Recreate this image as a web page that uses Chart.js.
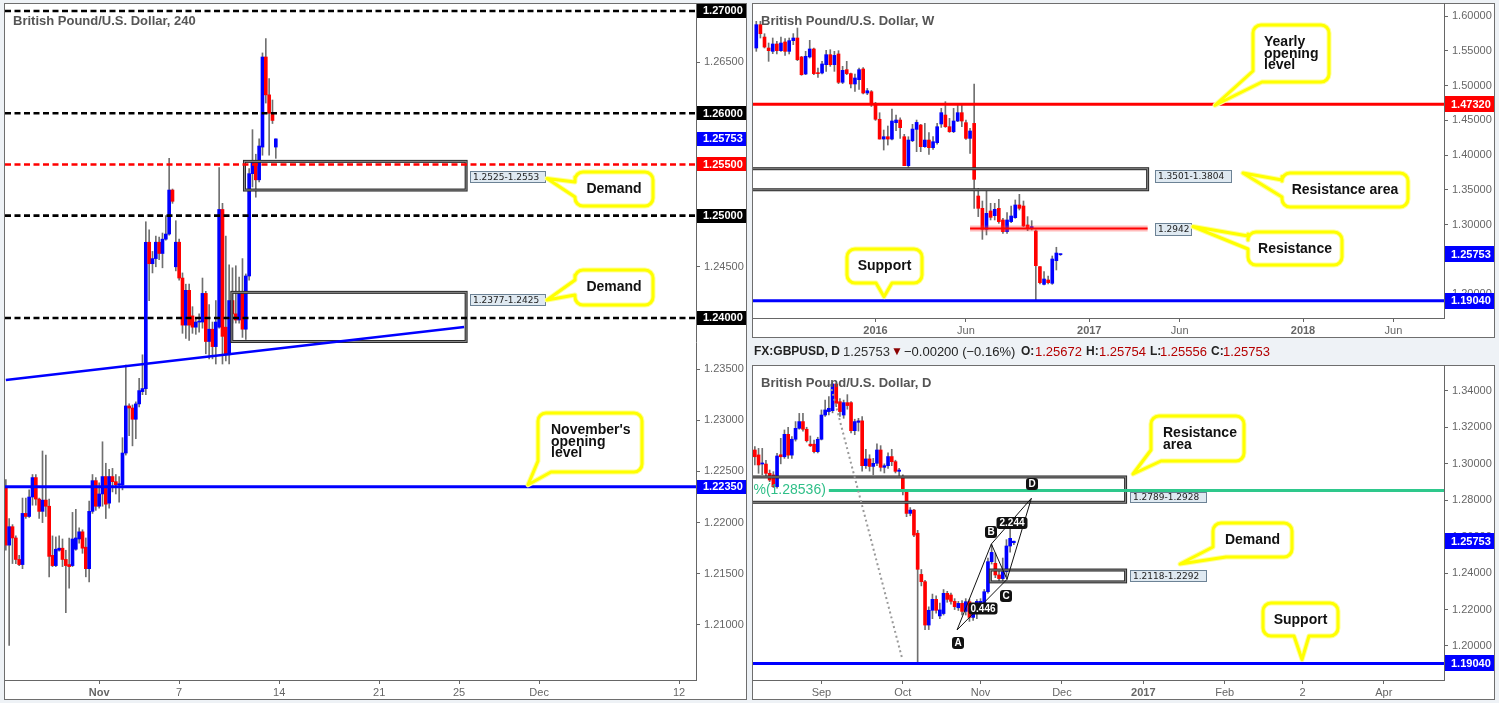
<!DOCTYPE html>
<html>
<head>
<meta charset="utf-8">
<script src="https://cdn.jsdelivr.net/npm/chart.js@4.4.1/dist/chart.umd.min.js"></script>
<style>
  html, body { margin: 0; padding: 0; background: #eef2f6; }
  body { width: 1499px; height: 703px; position: relative; overflow: hidden; }
  canvas { position: absolute; }
  #c4h { left: 0; top: 0; }
  #cw { left: 749px; top: 0; }
  #cd { left: 749px; top: 340px; }
</style>
</head>
<body>
<canvas id="c4h" width="750" height="703"></canvas>
<canvas id="cw" width="750" height="340"></canvas>
<canvas id="cd" width="750" height="363"></canvas>
<script>
// ---- 4h candles (index 0 = Mon 14 Nov 00:00) ----
const h4First = -82;
const h4Open = [1.2235,1.2178,1.2196,1.2185,1.2164,1.2159,1.2209,1.2206,1.2225,1.2244,
  1.2223,1.2211,1.2222,1.2216,1.2168,1.2158,1.2173,1.2175,1.2164,1.2159,
  1.2158,1.2174,1.2184,1.2191,1.2176,1.2155,1.2211,1.2241,1.2216,1.2228,
  1.2245,1.2219,1.2245,1.2240,1.2237,1.2237,1.2268,1.2314,1.2312,1.2301,
  1.2316,1.2328,1.2331,1.2474,1.2453,1.2458,1.2474,1.2463,1.2477,1.2482,
  1.2525,1.2450,1.2474,1.2439,1.2393,1.2427,1.2402,1.2391,1.2396,1.2396,
  1.2424,1.2377,1.2389,1.2372,1.2391,1.2506,1.2391,1.2364,1.2417,1.2404,
  1.2398,1.2424,1.2389,1.2441,1.2541,1.2552,1.2535,1.2567,1.2655,1.2618,
  1.2600,1.2567];
const h4High = [1.2242,1.2204,1.2198,1.2187,1.2168,1.2224,1.2224,1.2232,1.2247,1.2247,
  1.2224,1.2270,1.2266,1.2223,1.2187,1.2186,1.2187,1.2184,1.2173,1.2185,
  1.2210,1.2213,1.2195,1.2193,1.2185,1.2221,1.2247,1.2244,1.2239,1.2279,
  1.2258,1.2252,1.2253,1.2247,1.2245,1.2283,1.2354,1.2316,1.2315,1.2318,
  1.2341,1.2364,1.2494,1.2486,1.2465,1.2480,1.2479,1.2483,1.2500,1.2556,
  1.2526,1.2495,1.2477,1.2444,1.2433,1.2433,1.2411,1.2399,1.2404,1.2439,
  1.2426,1.2413,1.2396,1.2417,1.2547,1.2512,1.2480,1.2452,1.2449,1.2451,
  1.2440,1.2458,1.2443,1.2546,1.2584,1.2560,1.2575,1.2659,1.2673,1.2634,
  1.2613,1.2575];
const h4Low = [1.2173,1.2080,1.2160,1.2160,1.2158,1.2155,1.2204,1.2205,1.2217,1.2217,
  1.2204,1.2200,1.2206,1.2147,1.2157,1.2157,1.2172,1.2157,1.2112,1.2136,
  1.2157,1.2173,1.2180,1.2170,1.2147,1.2142,1.2209,1.2212,1.2214,1.2216,
  1.2204,1.2214,1.2230,1.2228,1.2220,1.2232,1.2266,1.2285,1.2275,1.2282,
  1.2313,1.2325,1.2325,1.2417,1.2444,1.2450,1.2457,1.2449,1.2476,1.2481,
  1.2512,1.2446,1.2437,1.2385,1.2380,1.2378,1.2385,1.2384,1.2386,1.2390,
  1.2365,1.2360,1.2360,1.2355,1.2390,1.2355,1.2358,1.2355,1.2395,1.2395,
  1.2395,1.2381,1.2379,1.2437,1.2528,1.2518,1.2533,1.2559,1.2610,1.2559,
  1.2590,1.2556];
const h4Close = [1.2178,1.2196,1.2185,1.2164,1.2159,1.2209,1.2206,1.2225,1.2244,1.2223,
  1.2211,1.2222,1.2216,1.2167,1.2158,1.2174,1.2175,1.2164,1.2158,1.2157,
  1.2184,1.2185,1.2191,1.2175,1.2155,1.2211,1.2241,1.2216,1.2228,1.2245,
  1.2218,1.2245,1.2240,1.2237,1.2238,1.2268,1.2314,1.2312,1.2301,1.2316,
  1.2329,1.2331,1.2474,1.2453,1.2458,1.2474,1.2463,1.2477,1.2482,1.2525,
  1.2514,1.2474,1.2439,1.2393,1.2427,1.2393,1.2391,1.2396,1.2397,1.2424,
  1.2377,1.2389,1.2372,1.2396,1.2506,1.2382,1.2364,1.2417,1.2404,1.2398,
  1.2424,1.2389,1.2441,1.2541,1.2552,1.2535,1.2568,1.2655,1.2618,1.2600,
  1.2593,1.2575];
const h4TickPos = [-54, -30, 0, 30, 54, 78, 120];
const h4TickLabels = ['Nov', '7', '14', '21', '25', 'Dec', '12'];
const h4YTicks = [1.21, 1.215, 1.22, 1.225, 1.23, 1.235, 1.24, 1.245, 1.25, 1.255, 1.26, 1.265, 1.27];
const h4Dashed = [1.27, 1.26, 1.25, 1.24];
const h4RedLevel = 1.255;
const novOpen = 1.2235;
const h4Demand1 = [1.2525, 1.2553], h4Demand1X = [-10.4, 56.1];
const h4Demand2 = [1.2377, 1.2425], h4Demand2X = [-14.2, 56.1];
const h4TrendX = [-82, 55.5], h4TrendY = [1.23393, 1.23911];
const lastPrice = 1.25753;

// ---- weekly candles (index 0 = week of 3 Jan 2016) ----
const wFirst = -29;
const wOpen = [1.5542,1.5878,1.5700,1.5542,1.5494,1.5600,1.5504,1.5629,1.5494,1.5648,
  1.5686,1.5413,1.5168,1.5413,1.5528,1.5182,1.5182,1.5302,1.5446,1.5302,
  1.5456,1.5048,1.5230,1.5173,1.5024,1.5086,1.5240,1.4894,1.4913,1.4740,
  1.4516,1.4231,1.4265,1.4231,1.4467,1.4505,1.4265,1.3848,1.4207,1.4371,
  1.4433,1.4121,1.4217,1.4107,1.4179,1.4448,1.4577,1.4409,1.4337,1.4491,
  1.4611,1.4467,1.4241,1.4457,1.3411,1.3234,1.2931,1.3195,1.3128,1.3234,
  1.3066,1.2898,1.3042,1.3099,1.3282,1.3267,1.2994,1.2946,1.2907,1.2394,
  1.2139,1.2202,1.2154,1.2480,1.2567];
const wHigh = [1.5926,1.5926,1.5748,1.5614,1.5686,1.5638,1.5700,1.5677,1.5686,1.5749,
  1.5830,1.5422,1.5494,1.5653,1.5542,1.5254,1.5350,1.5509,1.5518,1.5494,
  1.5504,1.5278,1.5350,1.5182,1.5168,1.5254,1.5260,1.4960,1.4930,1.4760,
  1.4610,1.4361,1.4419,1.4663,1.4577,1.4538,1.4299,1.4265,1.4443,1.4505,
  1.4443,1.4457,1.4323,1.4265,1.4457,1.4673,1.4769,1.4529,1.4673,1.4735,
  1.4735,1.4505,1.4385,1.5024,1.3521,1.3339,1.3483,1.3306,1.3306,1.3363,
  1.3090,1.3171,1.3267,1.3354,1.3435,1.3339,1.3114,1.3056,1.2922,1.2394,
  1.2322,1.2259,1.2547,1.2673,1.2575];
const wLow = [1.5494,1.5686,1.5542,1.5350,1.5461,1.5456,1.5494,1.5437,1.5456,1.5590,
  1.5360,1.5149,1.5158,1.5398,1.5158,1.5120,1.5168,1.5206,1.5278,1.5206,
  1.5029,1.5029,1.5158,1.4966,1.4918,1.4947,1.4880,1.4870,1.4700,1.4500,
  1.4231,1.4073,1.4145,1.4217,1.4351,1.4241,1.3848,1.3825,1.4193,1.4049,
  1.4049,1.4111,1.4011,1.4083,1.4159,1.4399,1.4399,1.4327,1.4323,1.4481,
  1.4409,1.4227,1.4025,1.3234,1.3114,1.2787,1.2850,1.3066,1.3066,1.3018,
  1.2874,1.2874,1.3027,1.3090,1.3210,1.2970,1.2912,1.2922,1.1899,1.2144,
  1.2130,1.2144,1.2139,1.2346,1.2556];
const wClose = [1.5878,1.5748,1.5556,1.5504,1.5600,1.5504,1.5614,1.5494,1.5648,1.5686,
  1.5374,1.5158,1.5422,1.5528,1.5173,1.5173,1.5312,1.5446,1.5302,1.5436,
  1.5048,1.5221,1.5173,1.5024,1.5110,1.5230,1.4894,1.4927,1.4740,1.4516,
  1.4231,1.4265,1.4231,1.4491,1.4505,1.4395,1.3848,1.4217,1.4375,1.4471,
  1.4121,1.4217,1.4107,1.4193,1.4409,1.4611,1.4409,1.4337,1.4491,1.4611,
  1.4491,1.4241,1.4347,1.3651,1.3234,1.2931,1.3162,1.3104,1.3219,1.3042,
  1.2898,1.3066,1.3123,1.3282,1.3234,1.2979,1.2946,1.2970,1.2408,1.2163,
  1.2216,1.2163,1.2504,1.2590,1.2575];
const wTickPos = [0, 22, 52, 74, 104, 126];
const wTickLabels = ['2016', 'Jun', '2017', 'Jun', '2018', 'Jun'];
const wYTicks = [1.20, 1.25, 1.30, 1.35, 1.40, 1.45, 1.50, 1.55, 1.60];
const yearlyOpen = 1.4732;
const wResArea = [1.3501, 1.3804], wResAreaEnd = 66.2;
const wRes = 1.2942, wResX = [23, 66.2];
const support = 1.1904;

// ---- daily candles (index 0 = 14 Nov 2016) ----
const dFirst = -70;
const dOpen = [1.3076,1.3049,1.2999,1.2999,1.2948,1.2939,1.2875,1.3050,1.3039,1.3162,
  1.3048,1.3135,1.3195,1.3232,1.3190,1.3108,1.3108,1.3067,1.3135,1.3268,
  1.3287,1.3292,1.3438,1.3341,1.3268,1.3336,1.3336,1.3182,1.3228,1.3236,
  1.2990,1.3027,1.2986,1.3003,1.3076,1.2981,1.2990,1.3040,1.3012,1.2959,
  1.2930,1.2847,1.2728,1.2746,1.2619,1.2393,1.2353,1.2115,1.2196,1.2256,
  1.2165,1.2178,1.2289,1.2280,1.2245,1.2210,1.2234,1.2190,1.2243,1.2157,
  1.2180,1.2234,1.2234,1.2298,1.2463,1.2454,1.2390,1.2370,1.2408,1.2549,
  1.2567];
const dHigh = [1.3095,1.3085,1.3085,1.3020,1.2966,1.2957,1.3058,1.3140,1.3186,1.3200,
  1.3150,1.3232,1.3277,1.3277,1.3201,1.3153,1.3130,1.3146,1.3296,1.3350,
  1.3369,1.3442,1.3442,1.3359,1.3350,1.3380,1.3342,1.3245,1.3250,1.3260,
  1.3080,1.3050,1.3030,1.3110,1.3100,1.3000,1.3060,1.3080,1.3020,1.2975,
  1.2940,1.2860,1.2760,1.2750,1.2635,1.2420,1.2360,1.2215,1.2285,1.2275,
  1.2235,1.2310,1.2300,1.2290,1.2260,1.2245,1.2250,1.2260,1.2255,1.2210,
  1.2255,1.2260,1.2310,1.2483,1.2556,1.2510,1.2420,1.2483,1.2584,1.2673,
  1.25754];
const dLow = [1.2994,1.2948,1.2940,1.2930,1.2902,1.2870,1.2866,1.3000,1.3030,1.3030,
  1.3030,1.3125,1.3190,1.3180,1.3120,1.3095,1.3060,1.3060,1.3131,1.3260,
  1.3268,1.3280,1.3314,1.3260,1.3250,1.3300,1.3170,1.3160,1.3180,1.2960,
  1.2975,1.2960,1.2940,1.2990,1.2960,1.2950,1.2975,1.2990,1.2950,1.2930,
  1.2830,1.2710,1.2715,1.2600,1.1908,1.2330,1.2090,1.2090,1.2150,1.2180,
  1.2150,1.2170,1.2240,1.2230,1.2200,1.2195,1.2170,1.2170,1.2135,1.2140,
  1.2150,1.2215,1.2220,1.2290,1.2450,1.2375,1.2355,1.2350,1.2380,1.2515,
  1.25556];
const dClose = [1.3039,1.2994,1.3005,1.2948,1.2911,1.2875,1.3043,1.3039,1.3162,1.3048,
  1.3135,1.3195,1.3232,1.3190,1.3127,1.3099,1.3067,1.3135,1.3268,1.3296,
  1.3305,1.3438,1.3332,1.3287,1.3336,1.3320,1.3182,1.3232,1.3236,1.2990,
  1.3027,1.2986,1.3003,1.3076,1.2981,1.2990,1.3040,1.3012,1.2959,1.2966,
  1.2847,1.2728,1.2746,1.2609,1.2421,1.2353,1.2115,1.2196,1.2256,1.2196,
  1.2198,1.2289,1.2256,1.2245,1.2216,1.2234,1.2190,1.2243,1.2157,1.2189,
  1.2245,1.2245,1.2298,1.2463,1.2514,1.2390,1.2370,1.2408,1.2549,1.2591,
  1.25753];
const dTickPos = [-52, -30, -9, 13, 35, 57, 78, 100];
const dTickLabels = ['Sep', 'Oct', 'Nov', 'Dec', '2017', 'Feb', '2', 'Apr'];
const dYTicks = [1.20, 1.22, 1.24, 1.26, 1.28, 1.30, 1.32, 1.34];
const dResArea = [1.2789, 1.2928], dZoneEnd = 30.2;
const dDemandBox = [1.2352, 1.2417], dDemandStart = -6.35;
const fibLevel = 1.28536, fibStart = -50;
const abcdX = [-15.35, -6.08, -1.84, 4.74];
const abcdY = [1.2088, 1.2560, 1.2366, 1.2811];
const swingX = [-49.6, -30.2], swingY = [1.3437, 1.1932];

const BG = '#eef2f6';
const FONT = '"Liberation Sans", Arial, sans-serif';

function callout(ctx, x, y, w, h, ptr) {
  const r = 8;
  const P = (px, py, rr) => ({ x: px, y: py, r: rr });
  const TL = P(x, y, r), TR = P(x + w, y, r), BR = P(x + w, y + h, r), BL = P(x, y + h, r);
  const T = P(ptr.tx, ptr.ty, 0);
  let pts;
  if (ptr.side === 'left') pts = [TL, TR, BR, BL, P(x, ptr.b, 0), T, P(x, ptr.a, 0)];
  else if (ptr.side === 'bottom') pts = [TL, TR, BR, P(ptr.b, y + h, 0), T, P(ptr.a, y + h, 0), BL];
  else pts = [TL, TR, BR, P(ptr.b, y + h, 0), T, P(x, ptr.a, 0)];
  const n = pts.length;
  ctx.save();
  ctx.beginPath();
  ctx.moveTo((pts[n - 1].x + pts[0].x) / 2, (pts[n - 1].y + pts[0].y) / 2);
  for (let k = 0; k < n; k++) {
    const p = pts[k], q = pts[(k + 1) % n];
    if (p.r > 0) ctx.arcTo(p.x, p.y, q.x, q.y, p.r); else ctx.lineTo(p.x, p.y);
  }
  ctx.closePath();
  ctx.fillStyle = '#fff';
  ctx.fill();
  ctx.lineJoin = 'round';
  ctx.strokeStyle = '#ffff9a';
  ctx.lineWidth = 5;
  ctx.stroke();
  ctx.strokeStyle = '#ffff00';
  ctx.lineWidth = 3;
  ctx.stroke();
  ctx.restore();
}

function calloutText(ctx, lines, x, y, lh, align) {
  ctx.save();
  ctx.font = 'bold 14px ' + FONT;
  ctx.fillStyle = '#111';
  ctx.textAlign = align;
  ctx.textBaseline = align === 'center' ? 'middle' : 'alphabetic';
  lines.forEach((t, k) => ctx.fillText(t, x, y + k * lh));
  ctx.restore();
}

function tag(ctx, x, y, w, h, text) {
  ctx.save();
  ctx.fillStyle = '#dfe9f1';
  ctx.fillRect(x, y, w, h);
  ctx.strokeStyle = '#6c8295';
  ctx.lineWidth = 1;
  ctx.strokeRect(x + 0.5, y + 0.5, w - 1, h - 1);
  ctx.fillStyle = '#222';
  ctx.font = '9px "DejaVu Sans", sans-serif';
  ctx.textBaseline = 'middle';
  ctx.fillText(text, x + 3, y + h / 2 + 0.5);
  ctx.restore();
}

function axisTag(chart, v, text, bg, h) {
  const ctx = chart.ctx, ca = chart.chartArea;
  const y = chart.scales.y.getPixelForValue(v);
  ctx.save();
  ctx.fillStyle = bg;
  ctx.fillRect(ca.right + 1, Math.round(y - h / 2), 49, h);
  ctx.fillStyle = '#fff';
  ctx.font = 'bold 11px ' + FONT;
  ctx.textBaseline = 'middle';
  ctx.fillText(text, ca.right + 7, y + 0.5);
  ctx.restore();
}

function hline(ctx, x1, x2, y, color, w, dash) {
  ctx.save();
  ctx.strokeStyle = color;
  ctx.lineWidth = w;
  ctx.setLineDash(dash || []);
  ctx.beginPath();
  ctx.moveTo(x1, y);
  ctx.lineTo(x2, y);
  ctx.stroke();
  ctx.restore();
}

function seg(ctx, x1, y1, x2, y2, color, w, dash) {
  ctx.save();
  ctx.strokeStyle = color;
  ctx.lineWidth = w;
  ctx.setLineDash(dash || []);
  ctx.beginPath();
  ctx.moveTo(x1, y1);
  ctx.lineTo(x2, y2);
  ctx.stroke();
  ctx.restore();
}

function zone(ctx, x1, y1, x2, y2) {
  ctx.save();
  ctx.strokeStyle = '#2b2b2b';
  ctx.lineWidth = 3;
  ctx.strokeRect(x1, y1, x2 - x1, y2 - y1);
  ctx.strokeStyle = '#8a8a8a';
  ctx.lineWidth = 1;
  ctx.strokeRect(x1, y1, x2 - x1, y2 - y1);
  ctx.restore();
}

function title(ctx, text, x, y) {
  ctx.save();
  ctx.font = 'bold 13px ' + FONT;
  ctx.fillStyle = '#555';
  ctx.fillText(text, x, y);
  ctx.restore();
}

function clipArea(chart) {
  const ca = chart.chartArea, ctx = chart.ctx;
  ctx.save();
  ctx.beginPath();
  ctx.rect(ca.left, ca.top, ca.right - ca.left, ca.bottom - ca.top);
  ctx.clip();
}

// labels at the axis ends must not push the plot area inwards
function noPad(s) {
  s.paddingTop = 0; s.paddingBottom = 0; s.paddingLeft = 0; s.paddingRight = 0;
}

function candleChart(id, o, h, l, c, first, opt) {
  const bodies = o.map((v, k) => ({ x: first + k, y: [Math.min(v, c[k]), Math.max(v, c[k])] }));
  const wicks = o.map((v, k) => ({ x: first + k, y: [l[k], h[k]] }));
  const colors = o.map((v, k) => (c[k] >= v ? '#0000ff' : '#ff0000'));
  return new Chart(document.getElementById(id), {
    type: 'bar',
    data: {
      datasets: [
        { data: bodies, backgroundColor: colors, barThickness: 3, minBarLength: 1, grouped: false },
        { data: wicks, backgroundColor: '#707070', barThickness: 1, grouped: false }
      ]
    },
    options: {
      responsive: false,
      animation: false,
      events: [],
      layout: { padding: opt.padding },
      plugins: { legend: { display: false }, tooltip: { enabled: false } },
      scales: {
        x: {
          type: 'linear', offset: false, min: opt.xMin, max: opt.xMax,
          afterBuildTicks: s => { s.ticks = opt.xTicks.map(v => ({ value: v })); },
          afterFit: s => { s.height = 19; noPad(s); },
          grid: { offset: false, drawOnChartArea: false, drawTicks: true, tickLength: 4, color: '#666' },
          border: { color: '#666' },
          ticks: {
            autoSkip: false, maxRotation: 0, padding: 2, color: '#666',
            callback: v => opt.xLabels[opt.xTicks.indexOf(v)],
            font: ctx => ({ family: FONT, size: 11, weight: opt.xBold.includes(opt.xLabels[ctx.index]) ? 'bold' : 'normal' })
          }
        },
        y: {
          position: 'right', beginAtZero: false, min: opt.yMin, max: opt.yMax,
          afterBuildTicks: s => { s.ticks = opt.yTicks.map(v => ({ value: v })); },
          afterFit: s => { s.width = 50; noPad(s); },
          grid: { drawOnChartArea: false, drawTicks: true, tickLength: 4, color: '#666' },
          border: { color: '#666' },
          ticks: { autoSkip: false, padding: 4, color: '#666', font: { family: FONT, size: 11 }, callback: v => v.toFixed(5) }
        }
      }
    },
    plugins: [{
      id: 'panel',
      beforeDraw(chart) {
        const ctx = chart.ctx, p = opt.panel;
        ctx.save();
        ctx.fillStyle = BG;
        ctx.fillRect(0, 0, chart.width, chart.height);
        ctx.fillStyle = '#fff';
        ctx.fillRect(p[0], p[1], p[2], p[3]);
        ctx.strokeStyle = '#6e6e6e';
        ctx.lineWidth = 1;
        ctx.strokeRect(p[0] + 0.5, p[1] + 0.5, p[2] - 1, p[3] - 1);
        ctx.restore();
      },
      afterDatasetsDraw: opt.annotate,
      afterDraw: opt.axisTags
    }]
  });
}

// ---------- 4h chart ----------
candleChart('c4h', h4Open, h4High, h4Low, h4Close, h4First, {
  padding: { left: 5, top: 4, right: 4, bottom: 4 },
  panel: [4, 3, 743, 697],
  xMin: -82.25, xMax: 125.07, yMin: 1.20462, yMax: 1.27068,
  xTicks: h4TickPos, xLabels: h4TickLabels, xBold: ['Nov'], yTicks: h4YTicks,
  annotate(chart) {
    const ctx = chart.ctx, ca = chart.chartArea;
    const X = v => chart.scales.x.getPixelForValue(v), Y = v => chart.scales.y.getPixelForValue(v);
    clipArea(chart);
    zone(ctx, X(h4Demand1X[0]), Y(h4Demand1[1]), X(h4Demand1X[1]), Y(h4Demand1[0]));
    zone(ctx, X(h4Demand2X[0]), Y(h4Demand2[1]), X(h4Demand2X[1]), Y(h4Demand2[0]));
    h4Dashed.forEach(v => hline(ctx, ca.left, ca.right, Y(v), '#000', 2.6, [6, 3.5]));
    hline(ctx, ca.left, ca.right, Y(h4RedLevel), '#ff0000', 2.6, [6, 3.5]);
    hline(ctx, ca.left, ca.right, Y(novOpen), '#0000ff', 3);
    seg(ctx, X(h4TrendX[0]), Y(h4TrendY[0]), X(h4TrendX[1]), Y(h4TrendY[1]), '#0000ff', 2.5);
    ctx.restore();
    tag(ctx, 470, 171, 76, 12, '1.2525-1.2553');
    tag(ctx, 470, 294, 76, 12, '1.2377-1.2425');
    callout(ctx, 575, 172, 78, 34, { side: 'left', a: 182, b: 197, tx: 547, ty: 178.5 });
    calloutText(ctx, ['Demand'], 614, 189.5, 0, 'center');
    callout(ctx, 575, 270, 78, 35, { side: 'left', a: 280, b: 295, tx: 547, ty: 300 });
    calloutText(ctx, ['Demand'], 614, 287.5, 0, 'center');
    callout(ctx, 538, 413, 104, 59, { side: 'bl', a: 461, b: 551, tx: 528, ty: Y(novOpen) - 2 });
    calloutText(ctx, ["November's", 'opening', 'level'], 551, 434, 11.5, 'left');
    title(ctx, 'British Pound/U.S. Dollar, 240', 13, 25);
  },
  axisTags(chart) {
    h4Dashed.forEach(v => axisTag(chart, v, v.toFixed(5), '#000', 14));
    axisTag(chart, lastPrice, lastPrice.toFixed(5), '#0000ff', 14);
    axisTag(chart, h4RedLevel, h4RedLevel.toFixed(5), '#ff0000', 14);
    axisTag(chart, novOpen, novOpen.toFixed(5), '#0000ff', 14);
  }
});

// ---------- weekly chart ----------
candleChart('cw', wOpen, wHigh, wLow, wClose, wFirst, {
  padding: { left: 4, top: 3, right: 5, bottom: 3 },
  panel: [3, 3, 743, 335],
  xMin: -29.8, xMax: 138.3, yMin: 1.16545, yMax: 1.61901,
  xTicks: wTickPos, xLabels: wTickLabels, xBold: ['2016', '2017', '2018'], yTicks: wYTicks,
  annotate(chart) {
    const ctx = chart.ctx, ca = chart.chartArea;
    const X = v => chart.scales.x.getPixelForValue(v), Y = v => chart.scales.y.getPixelForValue(v);
    clipArea(chart);
    zone(ctx, ca.left - 5, Y(wResArea[1]), X(wResAreaEnd), Y(wResArea[0]));
    hline(ctx, ca.left, ca.right, Y(yearlyOpen), '#ff0000', 3);
    hline(ctx, X(wResX[0]), X(wResX[1]), Y(wRes), 'rgba(255,60,60,0.35)', 6);
    hline(ctx, X(wResX[0]), X(wResX[1]), Y(wRes), '#ff0000', 2);
    hline(ctx, ca.left, ca.right, Y(support), '#0000ff', 3);
    ctx.restore();
    tag(ctx, 406, 170, 77, 13, '1.3501-1.3804');
    tag(ctx, 406, 223, 37, 13, '1.2942');
    callout(ctx, 504, 25, 76, 57, { side: 'bl', a: 71, b: 513, tx: 466, ty: Y(yearlyOpen) + 1 });
    calloutText(ctx, ['Yearly', 'opening', 'level'], 515, 46, 11.5, 'left');
    callout(ctx, 533, 173, 126, 34, { side: 'left', a: 180, b: 197, tx: 494, ty: 173 });
    calloutText(ctx, ['Resistance area'], 596, 190.5, 0, 'center');
    callout(ctx, 499, 232, 94, 33, { side: 'left', a: 236, b: 249, tx: 444, ty: Y(wRes) - 2 });
    calloutText(ctx, ['Resistance'], 546, 249, 0, 'center');
    callout(ctx, 98, 249, 75, 34, { side: 'bottom', a: 127, b: 143, tx: 135, ty: Y(support) - 4 });
    calloutText(ctx, ['Support'], 135.5, 266.5, 0, 'center');
    title(ctx, 'British Pound/U.S. Dollar, W', 12, 25);
  },
  axisTags(chart) {
    axisTag(chart, yearlyOpen, yearlyOpen.toFixed(5), '#ff0000', 16);
    axisTag(chart, lastPrice, lastPrice.toFixed(5), '#0000ff', 16);
    axisTag(chart, support, support.toFixed(5), '#0000ff', 16);
  }
});

// ---------- daily chart ----------
candleChart('cd', dOpen, dHigh, dLow, dClose, dFirst, {
  padding: { left: 4, top: 25, right: 5, bottom: 4 },
  panel: [3, 25, 743, 335],
  xMin: -70.5, xMax: 116.26, yMin: 1.18133, yMax: 1.35427,
  xTicks: dTickPos, xLabels: dTickLabels, xBold: ['2017'], yTicks: dYTicks,
  annotate(chart) {
    const ctx = chart.ctx, ca = chart.chartArea;
    const X = v => chart.scales.x.getPixelForValue(v), Y = v => chart.scales.y.getPixelForValue(v);
    clipArea(chart);
    zone(ctx, ca.left - 5, Y(dResArea[1]), X(dZoneEnd), Y(dResArea[0]));
    zone(ctx, X(dDemandStart), Y(dDemandBox[1]), X(dZoneEnd), Y(dDemandBox[0]));
    hline(ctx, X(fibStart), ca.right, Y(fibLevel), '#2ec88c', 3);
    ctx.font = '14px ' + FONT;
    ctx.fillStyle = '#2fbf88';
    ctx.textAlign = 'right';
    ctx.textBaseline = 'middle';
    ctx.fillText('61.8%(' + fibLevel.toFixed(5) + ')', X(fibStart) - 3, Y(fibLevel));
    seg(ctx, X(swingX[0]), Y(swingY[0]), X(swingX[1]), Y(swingY[1]), '#999', 2, [2, 3]);
    hline(ctx, ca.left, ca.right, Y(support), '#0000ff', 3);
    [[0, 1], [1, 2], [2, 0], [1, 3], [2, 3]].forEach(([p, q]) =>
      seg(ctx, X(abcdX[p]), Y(abcdY[p]), X(abcdX[q]), Y(abcdY[q]), '#111', 1));
    ctx.restore();
    const badge = (t, cx, cy, w) => {
      ctx.save();
      ctx.fillStyle = '#111';
      ctx.beginPath();
      ctx.roundRect(cx - w / 2, cy - 6, w, 12, 3);
      ctx.fill();
      ctx.fillStyle = '#fff';
      ctx.font = 'bold 10px ' + FONT;
      ctx.textAlign = 'center';
      ctx.textBaseline = 'middle';
      ctx.fillText(t, cx, cy + 0.5);
      ctx.restore();
    };
    badge('0.446', 234, 268.5, 29);
    badge('2.244', 263, 183, 31);
    badge('A', 209, 303, 12);
    badge('B', 242, 192, 12);
    badge('C', 257, 256, 12);
    badge('D', 283, 144, 12);
    tag(ctx, 381, 152, 77, 11, '1.2789-1.2928');
    tag(ctx, 381, 230, 77, 12, '1.2118-1.2292');
    callout(ctx, 402, 76, 93, 45, { side: 'bl', a: 110, b: 412, tx: 384, ty: 134 });
    calloutText(ctx, ['Resistance', 'area'], 414, 96.5, 12.3, 'left');
    callout(ctx, 464, 183, 79, 34, { side: 'bl', a: 207, b: 477, tx: 431, ty: 224 });
    calloutText(ctx, ['Demand'], 503.5, 200, 0, 'center');
    callout(ctx, 514, 263, 75, 33, { side: 'bottom', a: 545, b: 560, tx: 553, ty: Y(support) - 4 });
    calloutText(ctx, ['Support'], 551.5, 280, 0, 'center');
    title(ctx, 'British Pound/U.S. Dollar, D', 12, 47);
  },
  axisTags(chart) {
    axisTag(chart, lastPrice, lastPrice.toFixed(5), '#0000ff', 16);
    axisTag(chart, support, support.toFixed(5), '#0000ff', 16);
    const ctx = chart.ctx;
    ctx.save();
    ctx.textBaseline = 'middle';
    const put = (t, x, font, color) => { ctx.font = font; ctx.fillStyle = color; ctx.fillText(t, x, 12); };
    const B = 'bold 12px ' + FONT, N = '13px ' + FONT, R = '#b40000';
    put('FX:GBPUSD, D', 5, B, '#222');
    put('1.25753', 94, N, '#333');
    put('\u25BC', 142, '12px ' + FONT, '#8b0000');
    put('\u22120.00200 (\u22120.16%)', 155, N, '#222');
    put('O:', 272, B, '#222'); put('1.25672', 286, N, R);
    put('H:', 337, B, '#222'); put('1.25754', 350, N, R);
    put('L:', 401, B, '#222'); put('1.25556', 411, N, R);
    put('C:', 462, B, '#222'); put('1.25753', 474, N, R);
    ctx.restore();
  }
});
</script>
</body>
</html>
